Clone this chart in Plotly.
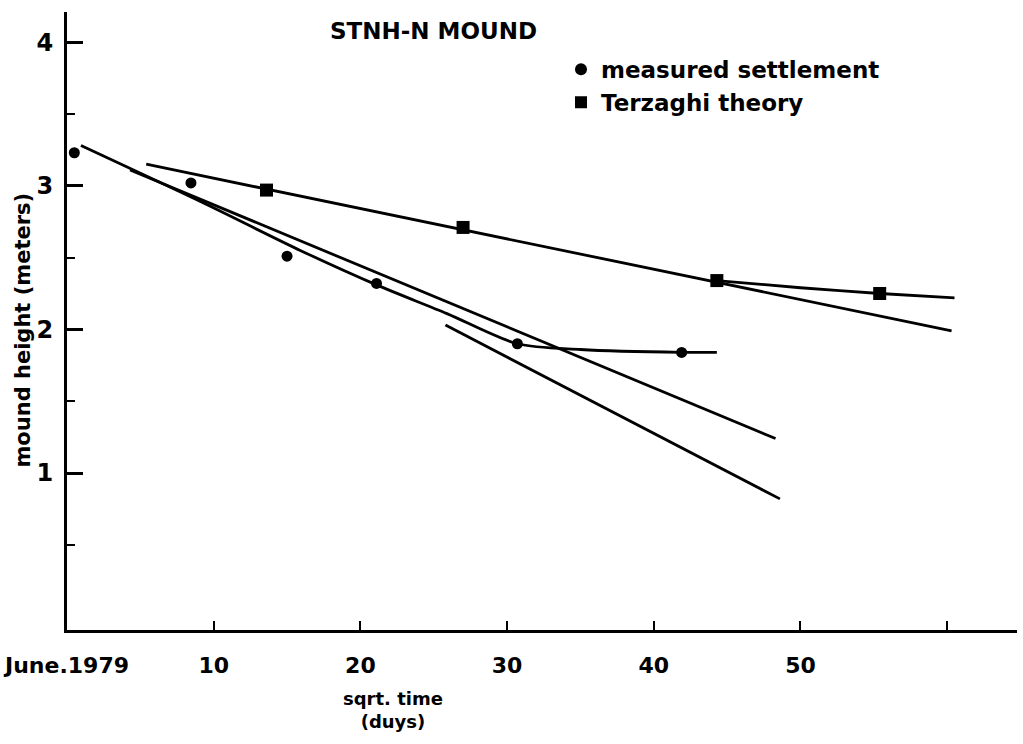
import plotly.graph_objects as go

# measured settlement points (sqrt days, meters)
measured_x = [0.5, 8.45, 15.0, 21.1, 30.7, 41.9]
measured_y = [3.23, 3.02, 2.51, 2.32, 1.90, 1.84]

# Terzaghi theory points
terzaghi_x = [13.6, 27.0, 44.3, 55.4]
terzaghi_y = [2.97, 2.71, 2.34, 2.25]

# hand-drawn curve through measured settlement
meas_curve_x = [0.95, 9.1, 15.9, 21.1, 25.9, 30.7, 35.0, 41.9, 44.3]
meas_curve_y = [3.28, 2.89, 2.55, 2.31, 2.11, 1.90, 1.86, 1.84, 1.84]

# straight fitted lines
line_b_x = [4.3, 48.3]
line_b_y = [3.11, 1.24]
line_c_x = [25.8, 48.6]
line_c_y = [2.03, 0.82]
terz_line_x = [5.4, 60.3]
terz_line_y = [3.15, 1.99]
terz_curve_x = [44.3, 50.0, 55.4, 60.5]
terz_curve_y = [2.34, 2.29, 2.25, 2.22]

x_tickvals = [0, 10, 20, 30, 40, 50, 60]
x_ticktext = ["June.1979", "10", "20", "30", "40", "50", ""]
y_tickvals = [1, 2, 3, 4]
y_minor = [0.5, 1.5, 2.5, 3.5]

FONT = "DejaVu Sans"
line_style = dict(color="black", width=2.8)

fig = go.Figure()
for lx, ly in [(line_b_x, line_b_y), (line_c_x, line_c_y),
               (terz_line_x, terz_line_y)]:
    fig.add_trace(go.Scatter(x=lx, y=ly, mode="lines", line=line_style,
                             showlegend=False, hoverinfo="skip"))
fig.add_trace(go.Scatter(x=meas_curve_x, y=meas_curve_y, mode="lines",
                         line=dict(color="black", width=2.8, shape="spline", smoothing=0.8),
                         showlegend=False, hoverinfo="skip"))
fig.add_trace(go.Scatter(x=terz_curve_x, y=terz_curve_y, mode="lines",
                         line=dict(color="black", width=2.8, shape="spline", smoothing=0.8),
                         showlegend=False, hoverinfo="skip"))
fig.add_trace(go.Scatter(x=measured_x, y=measured_y, mode="markers",
                         marker=dict(symbol="circle", size=11, color="black"),
                         name="measured settlement"))
fig.add_trace(go.Scatter(x=terzaghi_x, y=terzaghi_y, mode="markers",
                         marker=dict(symbol="square", size=13, color="black"),
                         name="Terzaghi theory"))

fig.add_annotation(x=24.95, y=4.08, xref="x", yref="y", text="STNH-N MOUND",
                   showarrow=False, xanchor="center", yanchor="middle",
                   font=dict(family=FONT, size=23, color="black", weight="bold"))
fig.add_annotation(x=22.2, y=-0.129, xref="x", yref="paper",
                   text="sqrt. time<br>(duys)", showarrow=False,
                   xanchor="center", yanchor="middle",
                   font=dict(family=FONT, size=18, color="black", weight="bold"))
fig.add_annotation(x=-0.046, y=0.485, xref="paper", yref="paper",
                   text="mound height (meters)", textangle=-90, showarrow=False,
                   xanchor="center", yanchor="middle",
                   font=dict(family=FONT, size=21, color="black", weight="bold"))

fig.update_layout(
    width=1023, height=744,
    margin=dict(l=67, r=6, t=12, b=114),
    paper_bgcolor="white", plot_bgcolor="white",
    font=dict(family=FONT, size=22, color="black", weight="bold"),
    legend=dict(x=0.52, y=0.942, xanchor="left", yanchor="top",
                bgcolor="rgba(0,0,0,0)",
                font=dict(family=FONT, size=23, weight="bold"),
                tracegroupgap=0, itemsizing="constant"),
    xaxis=dict(range=[0, 64.76], showgrid=False, zeroline=False,
               showline=True, linecolor="black", linewidth=3, automargin=False,
               tickvals=x_tickvals, ticktext=x_ticktext,
               ticks="inside", ticklen=9, tickwidth=2, tickcolor="black",
               ticklabelstandoff=14,
               tickfont=dict(family=FONT, size=22, weight="bold")),
    yaxis=dict(range=[-0.093, 4.21], showgrid=False, zeroline=False,
               showline=True, linecolor="black", linewidth=3, automargin=False,
               tickvals=y_tickvals, ticks="inside", ticklen=16, tickwidth=2.5,
               tickcolor="black", ticklabelstandoff=6,
               tickfont=dict(family=FONT, size=24, weight="bold"),
               minor=dict(tickvals=y_minor, ticks="inside", ticklen=8,
                          tickwidth=2, tickcolor="black")),
)

fig.write_html("out.html")
